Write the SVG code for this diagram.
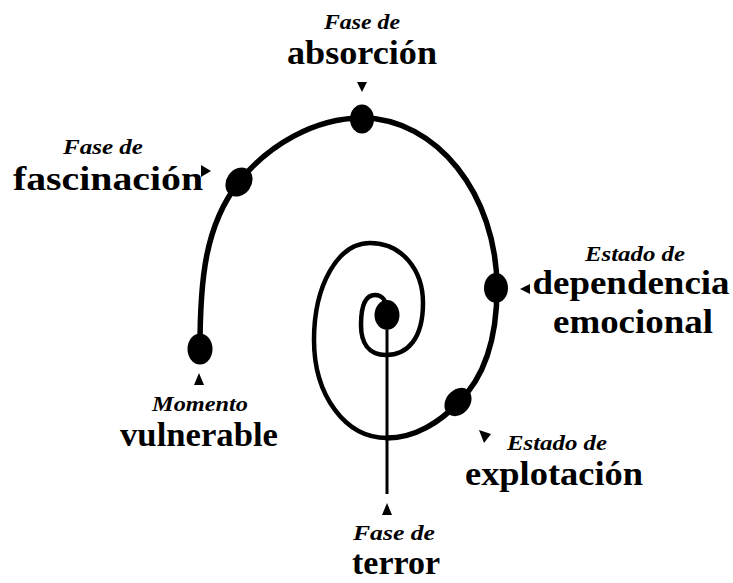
<svg xmlns="http://www.w3.org/2000/svg" width="733" height="583" viewBox="0 0 733 583">
<style>
.sm{font-family:"Liberation Serif",serif;font-style:italic;font-weight:bold;font-size:21px;fill:#000;text-anchor:middle}
.lg{font-family:"Liberation Serif",serif;font-weight:bold;font-size:34px;fill:#000;text-anchor:middle}
.sp{fill:none;stroke:#000;stroke-linecap:round;stroke-linejoin:round}
.dot{fill:#000}
.ar{fill:#000}
</style>
<rect width="733" height="583" fill="#fff"/>
<g id="connectors">
<path class="sp" stroke-width="5.5" d="M200,348 C200,280 205,225 239,182 C268,145 315,118 362,118 C436,118 497,194 497,288 C497,345 482,380 458,403 C440,422 415,438 387,438"/>
<path class="sp" stroke-width="4.5" d="M387,438 C345,438 314,395 314,340 C314,285 338,243 370,243 C402,243 423,270 423,303 C423,338 408,355 386,355 C368,355 361,342 361,325 C361,305 366,295 375,295 C383,295 387,302 387,312"/>
<line x1="387" y1="330" x2="387" y2="494" stroke="#000" stroke-width="3"/>
</g>
<g id="node-absorcion">
<ellipse class="dot" cx="362" cy="119" rx="12" ry="14.5"/>
<polygon class="ar" points="357,82 367,82 362,92"/>
<text class="sm" x="362" y="29" textLength="76" lengthAdjust="spacingAndGlyphs">Fase de</text>
<text class="lg" x="362" y="64" textLength="150" lengthAdjust="spacingAndGlyphs">absorción</text>
</g>
<g id="node-fascinacion">
<ellipse class="dot" cx="239" cy="182" rx="12.5" ry="15.5" transform="rotate(35 239 182)"/>
<polygon class="ar" points="201,165 201,177 211,171"/>
<text class="sm" x="103" y="154" textLength="80" lengthAdjust="spacingAndGlyphs">Fase de</text>
<text class="lg" x="108" y="190" textLength="190" lengthAdjust="spacingAndGlyphs">fascinación</text>
</g>
<g id="node-vulnerable">
<ellipse class="dot" cx="200" cy="349" rx="12.5" ry="15.5"/>
<polygon class="ar" points="199,373 194,385 204,385"/>
<text class="sm" x="200" y="411" textLength="96" lengthAdjust="spacingAndGlyphs">Momento</text>
<text class="lg" x="199" y="446" textLength="158" lengthAdjust="spacingAndGlyphs">vulnerable</text>
</g>
<g id="node-dependencia">
<ellipse class="dot" cx="496" cy="288" rx="12" ry="15"/>
<polygon class="ar" points="520,289 530,284 530,294"/>
<text class="sm" x="635" y="261" textLength="100" lengthAdjust="spacingAndGlyphs">Estado de</text>
<text class="lg" x="631" y="294" textLength="197" lengthAdjust="spacingAndGlyphs">dependencia</text>
<text class="lg" x="633" y="333" textLength="160" lengthAdjust="spacingAndGlyphs">emocional</text>
</g>
<g id="node-explotacion">
<ellipse class="dot" cx="458" cy="402" rx="12" ry="15.5" transform="rotate(40 458 402)"/>
<polygon class="ar" points="479,430 491,434 484,443"/>
<text class="sm" x="557" y="450" textLength="100" lengthAdjust="spacingAndGlyphs">Estado de</text>
<text class="lg" x="554" y="485" textLength="178" lengthAdjust="spacingAndGlyphs">explotación</text>
</g>
<g id="node-terror">
<ellipse class="dot" cx="387" cy="315" rx="12.5" ry="15"/>
<polygon class="ar" points="387,503 382,515 392,515"/>
<text class="sm" x="394" y="540" textLength="82" lengthAdjust="spacingAndGlyphs">Fase de</text>
<text class="lg" x="396" y="574" textLength="88" lengthAdjust="spacingAndGlyphs">terror</text>
</g>
</svg>
